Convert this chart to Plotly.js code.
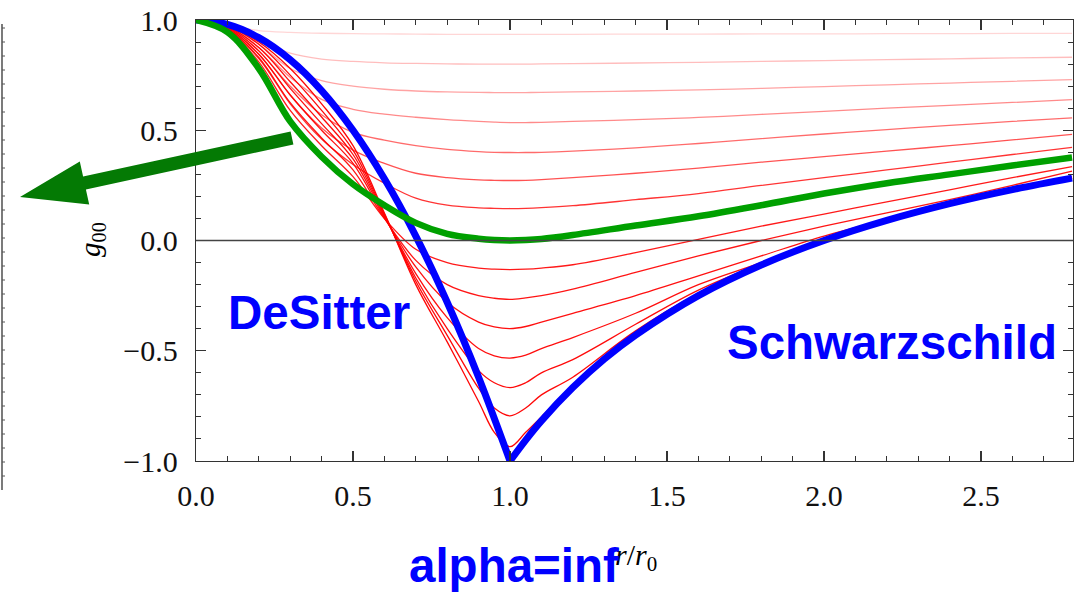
<!DOCTYPE html>
<html><head><meta charset="utf-8">
<script src="https://cdn.plot.ly/plotly-3.0.1.min.js"></script>
<style>html,body{margin:0;padding:0;background:#fff;overflow:hidden}#chart{width:1075px;height:596px}</style>
</head><body><div id="chart"></div>
<script>
// r / r0 sample grid shared by the red curves and the green curve
const rGrid = [0, 0.1, 0.2, 0.3, 0.4, 0.5, 0.6, 0.7, 0.8, 0.9, 0.95, 1.0, 1.05, 1.1, 1.2, 1.4, 1.6, 1.8, 2.0, 2.2, 2.4, 2.6, 2.79];

// upper red family (minimum above zero), top to bottom
const redU1 = [1, 0.976, 0.952, 0.944, 0.94, 0.938, 0.937, 0.936, 0.935, 0.935, 0.935, 0.935, 0.935, 0.935, 0.935, 0.936, 0.936, 0.937, 0.937, 0.938, 0.938, 0.939, 0.939];
const redU2 = [1, 0.975, 0.91, 0.85, 0.823, 0.812, 0.806, 0.803, 0.801, 0.80, 0.80, 0.80, 0.80, 0.801, 0.802, 0.805, 0.808, 0.812, 0.816, 0.82, 0.824, 0.828, 0.831];
const redU3 = [1, 0.972, 0.89, 0.78, 0.725, 0.70, 0.686, 0.678, 0.674, 0.672, 0.671, 0.671, 0.671, 0.672, 0.674, 0.678, 0.683, 0.69, 0.698, 0.706, 0.714, 0.722, 0.73];
const redU4 = [1, 0.97, 0.875, 0.74, 0.64, 0.595, 0.573, 0.559, 0.548, 0.54, 0.537, 0.535, 0.535, 0.536, 0.54, 0.548, 0.558, 0.572, 0.586, 0.60, 0.613, 0.626, 0.639];
const redU5 = [1, 0.967, 0.86, 0.70, 0.57, 0.49, 0.455, 0.43, 0.413, 0.403, 0.40, 0.399, 0.399, 0.40, 0.405, 0.42, 0.44, 0.462, 0.483, 0.503, 0.522, 0.54, 0.556];
const redU6 = [1, 0.963, 0.845, 0.66, 0.51, 0.41, 0.35, 0.305, 0.285, 0.275, 0.273, 0.272, 0.273, 0.276, 0.285, 0.305, 0.328, 0.355, 0.38, 0.405, 0.43, 0.456, 0.481];
const redU7 = [1, 0.958, 0.825, 0.62, 0.46, 0.345, 0.26, 0.192, 0.16, 0.148, 0.146, 0.145, 0.146, 0.149, 0.158, 0.185, 0.213, 0.25, 0.285, 0.32, 0.355, 0.39, 0.422];

// lower red family (minimum below zero), top to bottom
const redL1 = [1, 0.955, 0.81, 0.59, 0.43, 0.29, 0.10, -0.04, -0.10, -0.125, -0.13, -0.132, -0.13, -0.125, -0.11, -0.055, 0.005, 0.065, 0.12, 0.175, 0.23, 0.285, 0.335];
const redL2 = [1, 0.96, 0.83, 0.625, 0.465, 0.32, 0.10, -0.09, -0.20, -0.25, -0.262, -0.267, -0.26, -0.25, -0.22, -0.145, -0.07, 0.0, 0.065, 0.125, 0.185, 0.25, 0.315];
const redL3 = [1, 0.963, 0.845, 0.66, 0.50, 0.35, 0.105, -0.12, -0.28, -0.37, -0.392, -0.40, -0.39, -0.37, -0.33, -0.25, -0.16, -0.07, 0.02, 0.095, 0.17, 0.235, 0.29];
const redL4 = [1, 0.967, 0.86, 0.69, 0.53, 0.37, 0.11, -0.15, -0.35, -0.49, -0.523, -0.533, -0.52, -0.49, -0.44, -0.33, -0.20, -0.10, 0.005, 0.093, 0.168, 0.232, 0.285];
const redL5 = [1, 0.97, 0.875, 0.72, 0.56, 0.39, 0.115, -0.17, -0.40, -0.59, -0.645, -0.667, -0.645, -0.60, -0.54, -0.38, -0.225, -0.105, 0.002, 0.092, 0.168, 0.232, 0.284];
const redL6 = [1, 0.973, 0.89, 0.75, 0.59, 0.41, 0.12, -0.185, -0.43, -0.67, -0.76, -0.795, -0.76, -0.70, -0.62, -0.41, -0.24, -0.109, 0.001, 0.092, 0.167, 0.231, 0.284];
const redL7 = [1, 0.976, 0.90, 0.78, 0.62, 0.43, 0.125, -0.20, -0.46, -0.73, -0.87, -0.935, -0.87, -0.80, -0.66, -0.425, -0.248, -0.11, 0.0, 0.091, 0.167, 0.231, 0.283];

// green curve (minimum touching zero)
const greenY = [1, 0.945, 0.78, 0.54, 0.38, 0.255, 0.16, 0.08, 0.03, 0.008, 0.002, 0, 0.002, 0.007, 0.025, 0.068, 0.11, 0.16, 0.213, 0.26, 0.30, 0.34, 0.376];

// blue curve: DeSitter branch and Schwarzschild branch
const blueInX = [0, 0.1, 0.2, 0.3, 0.4, 0.5, 0.6, 0.7, 0.8, 0.9, 1.0];
const blueInY = [1, 0.98, 0.92, 0.82, 0.68, 0.5, 0.28, 0.02, -0.28, -0.62, -1];
const blueOutX = [1.0, 1.05, 1.1, 1.2, 1.3, 1.4, 1.6, 1.8, 2.0, 2.2, 2.4, 2.6, 2.79];
const blueOutY = [-1, -0.905, -0.818, -0.667, -0.538, -0.429, -0.25, -0.111, 0, 0.091, 0.167, 0.231, 0.283];

const xTickVals = [0, 0.5, 1.0, 1.5, 2.0, 2.5];
const yTickVals = [-1, -0.5, 0, 0.5, 1];

const redSeries = [
  [redU1, 0.16], [redU2, 0.26], [redU3, 0.36], [redU4, 0.46], [redU5, 0.58], [redU6, 0.68], [redU7, 0.8],
  [redL1, 0.9], [redL2, 0.92], [redL3, 0.94], [redL4, 0.95], [redL5, 0.96], [redL6, 0.97], [redL7, 0.98]
];

const traces = redSeries.map(([ys, op]) => ({
  x: rGrid, y: ys, type: 'scatter', mode: 'lines',
  line: {color: 'rgba(255,0,0,' + op + ')', width: 1.3, shape: 'spline', smoothing: 1},
  hoverinfo: 'skip', showlegend: false
}));
traces.push({x: blueInX, y: blueInY, type: 'scatter', mode: 'lines',
  line: {color: '#0000ff', width: 7, shape: 'spline'}, showlegend: false, hoverinfo: 'skip'});
traces.push({x: blueOutX, y: blueOutY, type: 'scatter', mode: 'lines',
  line: {color: '#0000ff', width: 7, shape: 'spline'}, showlegend: false, hoverinfo: 'skip'});
traces.push({x: rGrid, y: greenY, type: 'scatter', mode: 'lines',
  line: {color: '#00a000', width: 6.5, shape: 'spline'}, showlegend: false, hoverinfo: 'skip'});

// pixel -> paper helpers (plot area 196..1073 x 20..461)
const L = 196, R = 1073, T = 20, B = 461;
const px = v => (v - L) / (R - L);
const py = v => (B - v) / (B - T);

// arrow polygon (pixel corners)
const arrowPts = [[20,197],[79.8,161.5],[83.1,176.6],[290.6,131.6],[293.4,144.4],[85.9,189.4],[89.2,204.5]];
const arrowPath = arrowPts.map((p, i) => (i ? 'L' : 'M') + px(p[0]).toFixed(5) + ',' + py(p[1]).toFixed(5)).join(' ') + ' Z';

const shapes = [
  {type: 'line', xref: 'paper', yref: 'y', x0: 0, x1: 1, y0: 0, y1: 0, line: {color: '#444', width: 1.3}, layer: 'above'},
  {type: 'path', xref: 'paper', yref: 'paper', path: arrowPath, fillcolor: '#047a04', line: {width: 0}, layer: 'above'},
  {type: 'line', xref: 'paper', yref: 'paper', x0: px(2), x1: px(2), y0: py(24), y1: py(490), line: {color: '#333', width: 1.3}}
];
for (let yy = 28; yy < 490; yy += 14) {
  shapes.push({type: 'line', xref: 'paper', yref: 'paper', x0: px(2), x1: px(5), y0: py(yy), y1: py(yy), line: {color: '#555', width: 1}});
}

const ann = (text, x, y, size, extra) => Object.assign({
  text, xref: 'paper', yref: 'paper', x: px(x), y: py(y), xanchor: 'center', yanchor: 'middle',
  showarrow: false, font: {family: 'Liberation Sans, Arial, sans-serif', size, color: '#0000ff', weight: 'bold'}
}, extra || {});

const annotations = [
  ann('<b>DeSitter</b>', 319, 312.5, 47.5),
  ann('<b>Schwarzschild</b>', 892, 342.5, 47.5),
  ann('<i>r</i>/<i>r</i><sub>0</sub>', 636, 557, 30, {font: {family: 'Liberation Serif, Times New Roman, serif', size: 30, color: '#000'}}),
  ann('<i>g</i><sub>00</sub>', 92, 240, 29, {textangle: -90, font: {family: 'Liberation Serif, Times New Roman, serif', size: 29, color: '#000'}}),
  ann('<b>alpha=inf</b>', 514, 565.5, 47.5)
];

const axisCommon = {
  ticks: 'inside', ticklen: 10, tickwidth: 1.2, tickcolor: '#333',
  showline: true, linecolor: '#333', linewidth: 1.3, mirror: 'allticks',
  showgrid: false, zeroline: false, tickformat: '.1f',
  tickfont: {family: 'Liberation Serif, Times New Roman, serif', size: 30, color: '#111'},
  minor: {dtick: 0.1, ticks: 'inside', ticklen: 5, tickcolor: '#333', tickwidth: 1, showgrid: false}
};

const layout = {
  width: 1075, height: 596,
  margin: {l: L, r: 1075 - R, t: T, b: 596 - B, pad: 0},
  paper_bgcolor: '#fff', plot_bgcolor: '#fff',
  xaxis: Object.assign({}, axisCommon, {range: [0, (R - L) / 314], tickmode: 'array', tickvals: xTickVals, ticklabelstandoff: 8}),
  yaxis: Object.assign({}, axisCommon, {range: [-1, 1], tickmode: 'array', tickvals: yTickVals, ticklabelstandoff: 11}),
  shapes, annotations, showlegend: false
};

Plotly.newPlot('chart', traces, layout, {staticPlot: true, displayModeBar: false});
</script></body></html>
